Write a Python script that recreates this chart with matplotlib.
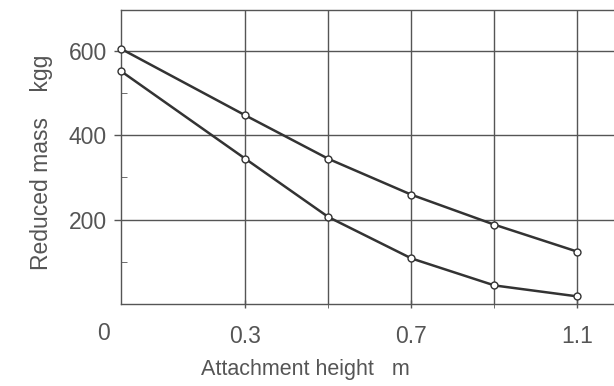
import matplotlib
matplotlib.use("Agg")
import matplotlib.pyplot as plt
from matplotlib.ticker import FixedLocator

plt.rcParams["font.family"] = ["Liberation Sans", "DejaVu Sans"]

x_vals = [0.0, 0.3, 0.5, 0.7, 0.9, 1.1]
upper = [605, 447, 344, 259, 188, 124]
lower = [552, 344, 206, 108, 44, 18]
xtick_labels = ["0.3", "0.7", "1.1"]
xtick_pos = [0.3, 0.7, 1.1]
ytick_pos = [200, 400, 600]
ytick_labels = ["200", "400", "600"]

fig = plt.figure(figsize=(6.14, 3.86), dpi=100)
ax = fig.add_axes([121/614, (386-304)/386, 1 - 121/614, (304-10)/386])
ax.set_xlim(0, 1.188)
ax.set_ylim(0, 697)

grid_c = "#555555"
line_c = "#333333"
text_c = "#555555"

for gx in [0.3, 0.5, 0.7, 0.9, 1.1]:
    ax.axvline(gx, color=grid_c, lw=1.0, zorder=1)
for gy in [200, 400, 600]:
    ax.axhline(gy, color=grid_c, lw=1.0, zorder=1)

ax.spines["right"].set_visible(False)
for s in ["left", "bottom", "top"]:
    ax.spines[s].set_color(grid_c)
    ax.spines[s].set_linewidth(1.0)

for ys in (upper, lower):
    ax.plot(x_vals, ys, color=line_c, lw=1.8, marker="o", markersize=5,
            markerfacecolor="white", markeredgecolor=line_c, markeredgewidth=1.0,
            zorder=3, clip_on=False)

ax.set_xticks(xtick_pos)
ax.set_xticklabels(xtick_labels)
ax.xaxis.set_minor_locator(FixedLocator([0.5, 0.9]))
ax.set_yticks(ytick_pos)
ax.set_yticklabels(ytick_labels)
ax.yaxis.set_minor_locator(FixedLocator([100, 300, 500]))
ax.tick_params(axis="both", which="major", labelsize=16.5, labelcolor=text_c,
               color=grid_c, width=1.0)
ax.tick_params(axis="y", which="major", direction="out", length=5, pad=5)
ax.tick_params(axis="y", which="minor", direction="in", length=4, color=grid_c)
ax.tick_params(axis="x", which="major", direction="inout", length=6, pad=12)
ax.tick_params(axis="x", which="minor", direction="inout", length=6, color=grid_c)

ax.text(-0.041, -0.10, "0", transform=ax.get_xaxis_transform(), ha="center",
        va="center", fontsize=16.5, color=text_c, clip_on=False)

fig.text(305/614, 1 - 370/386, "Attachment height   m", ha="center", va="center",
         fontsize=15.5, color=text_c)
fig.text(42/614, 1 - 162/386, "Reduced mass    kgg", ha="center", va="center",
         rotation=90, fontsize=16.5, color=text_c)

fig.savefig("out.png", dpi=100, facecolor="white")
